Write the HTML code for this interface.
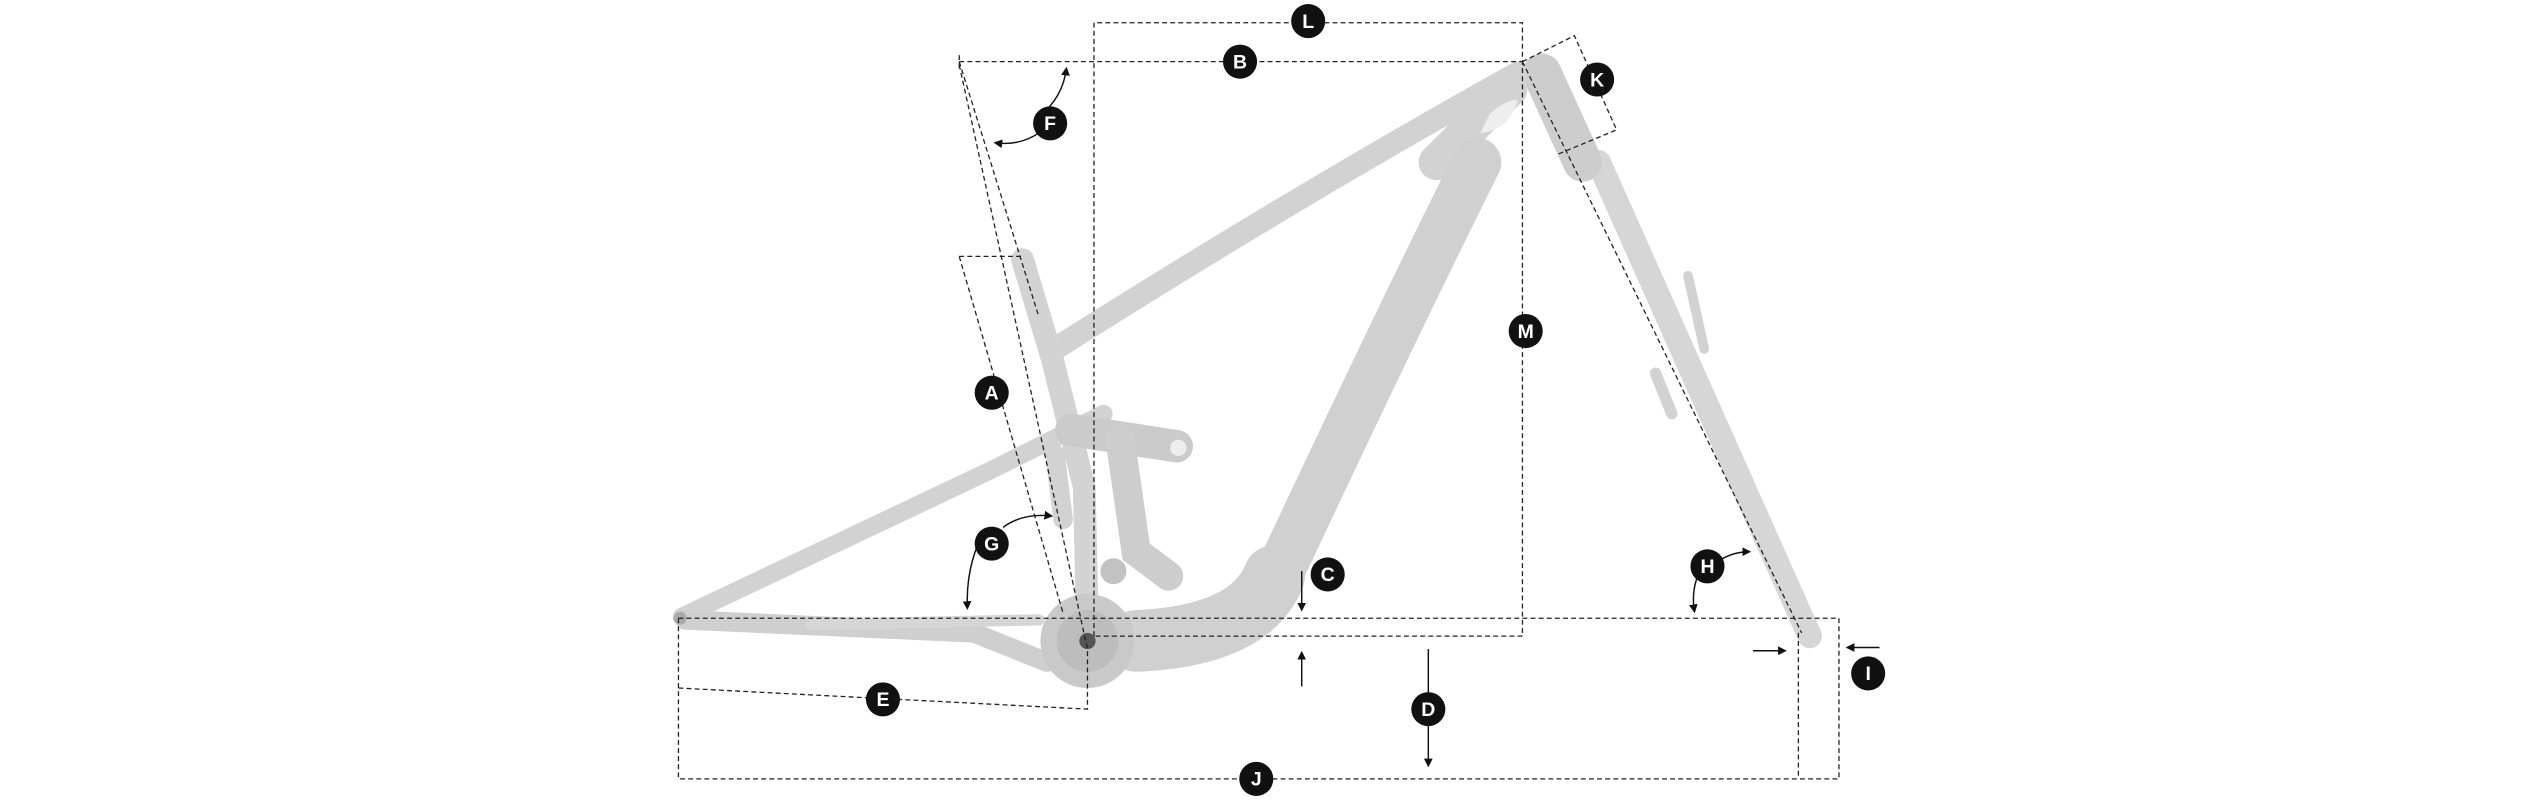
<!DOCTYPE html>
<html><head><meta charset="utf-8"><style>
html,body{margin:0;padding:0;background:#fff;width:2545px;height:800px;overflow:hidden}
svg{display:block}
text{font-family:"Liberation Sans",sans-serif;font-weight:bold;fill:#fff;text-anchor:middle;dominant-baseline:central;font-size:12px}
</style></head><body>
<svg width="2545" height="800" viewBox="0 0 1568 493" preserveAspectRatio="none" xmlns="http://www.w3.org/2000/svg">
<defs><marker id="ar" markerWidth="6" markerHeight="6" refX="5" refY="3" orient="auto"><path d="M0,0 L6,3 L0,6 z" fill="#111"/></marker></defs>
<g fill="none" stroke-linecap="round" stroke="#d2d2d2">
 <path d="M985,100 L1115,392" stroke-width="15" stroke="#d6d6d6"/>
 <path d="M1040,170 L1050,215" stroke-width="6"/>
 <path d="M1020,230 L1030,255" stroke-width="7"/>
 <path d="M950,45 L975,100" stroke-width="24" stroke="#cdcdcd"/>
 <path d="M935,45 Q800,120 650,215" stroke-width="14"/>
 <path d="M930,55 Q905,80 885,100" stroke-width="22"/>
 <path d="M910,100 Q860,200 785,360" stroke-width="30" stroke="#d0d0d0"/>
 <path d="M785,355 Q770,392 700,395" stroke-width="38" stroke="#d0d0d0"/>
 <path d="M630,160 L648,220 L668,300 L670,385" stroke-width="14" stroke="#d3d3d3"/>
 <path d="M420,380 L610,290 L680,255" stroke-width="11"/>
 <path d="M660,265 L725,275" stroke-width="20" stroke="#cbcbcb"/>
 <path d="M690,270 L700,340 L720,355" stroke-width="18" stroke="#cdcdcd"/>
 <path d="M650,280 L655,320" stroke-width="12"/>
 <path d="M422,382 L600,390 L645,408" stroke-width="12" stroke="#cfcfcf"/>
 <path d="M500,385 L640,382" stroke-width="7" stroke="#d6d6d6"/>
</g>
<circle cx="670" cy="395" r="29" fill="#c9c9c9"/>
<circle cx="670" cy="395" r="19" fill="#bdbdbd"/>
<circle cx="670" cy="395" r="5" fill="#555"/>
<circle cx="686" cy="352" r="8" fill="#c2c2c2"/>
<circle cx="726" cy="276" r="5" fill="#eee"/>
<path d="M918,70 Q930,60 935,62 Q930,80 912,82 Z" fill="#eee"/>
<circle cx="419" cy="381" r="4" fill="#aaa"/>
<g fill="none" stroke="#222" stroke-width="0.8" stroke-dasharray="3,2">
 <path d="M674,392 L674,14 L938,14 L938,392 L674,392"/>
 <path d="M591,38 L938,38"/>
 <path d="M591,34 L591,44 M591,38 L640,195 M591,40 L670,400"/>
 <path d="M591,158 L630,158 M591,158 L655,378"/>
 <path d="M938,38 L970,22 L996,80 L960,95"/>
 <path d="M938,38 L1110,390"/>
 <path d="M418,381 L1133,381"/>
 <path d="M418,381 L418,480 L1133,480 L1133,381"/>
 <path d="M1108,390 L1108,480"/>
 <path d="M418,424 L670,437 L670,400"/>
</g>
<g fill="none" stroke="#111" stroke-width="0.9" marker-end="url(#ar)">
 <path d="M802,352 L802,376"/>
 <path d="M802,423 L802,402"/>
 <path d="M880,400 L880,472"/>
 <path d="M1080,401 L1100,401"/>
 <path d="M1158,399 L1138,399"/>
 <path d="M640,72 Q655,60 657,42"/>
 <path d="M640,82 Q628,90 613,88"/>
 <path d="M605,330 Q595,350 596,375"/>
 <path d="M618,325 Q630,316 648,318"/>
 <path d="M1046,355 Q1042,365 1044,377"/>
 <path d="M1060,345 Q1068,340 1078,340"/>
</g>
<g fill="#111">
 <circle cx="806" cy="13" r="10.5"/><circle cx="764" cy="38" r="10.5"/><circle cx="984" cy="49" r="10.5"/>
 <circle cx="940" cy="204" r="10.5"/><circle cx="647" cy="76" r="10.5"/><circle cx="611" cy="242" r="10.5"/>
 <circle cx="611" cy="335" r="10.5"/><circle cx="818" cy="354" r="10.5"/><circle cx="880" cy="437" r="10.5"/>
 <circle cx="544" cy="431" r="10.5"/><circle cx="774" cy="480" r="10.5"/><circle cx="1052" cy="349" r="10.5"/>
 <circle cx="1151" cy="415" r="10.5"/>
</g>
<text x="806" y="13.5">L</text><text x="764" y="38.5">B</text><text x="984" y="49.5">K</text>
<text x="940" y="204.5">M</text><text x="647" y="76.5">F</text><text x="611" y="242.5">A</text>
<text x="611" y="335.5">G</text><text x="818" y="354.5">C</text><text x="880" y="437.5">D</text>
<text x="544" y="431.5">E</text><text x="774" y="480.5">J</text><text x="1052" y="349.5">H</text>
<text x="1151" y="415.5">I</text>
</svg>
</body></html>
